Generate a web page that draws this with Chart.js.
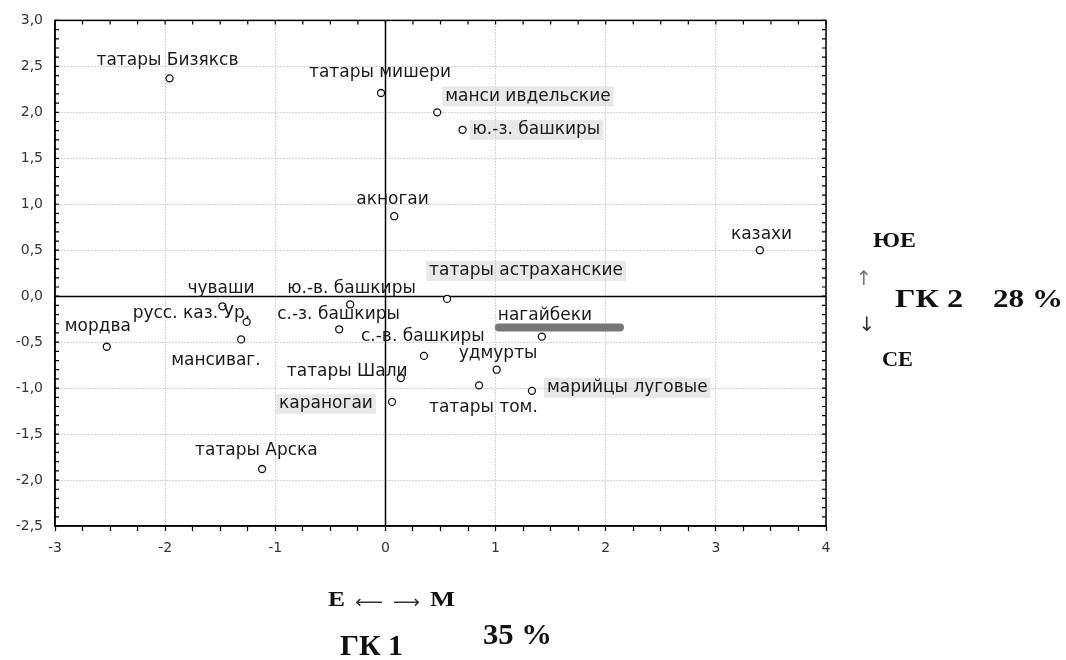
<!DOCTYPE html>
<html><head><meta charset="utf-8">
<script src="https://cdn.jsdelivr.net/npm/chart.js@4"></script>
<style>html,body{margin:0;padding:0;background:#fff}#c{display:block}</style>
</head><body>
<canvas id="c" width="1066" height="660"></canvas>
<script>
// ---- data ----
const categories = [
  "татары Бизяксв", "татары мишери", "манси ивдельские", "ю.-з. башкиры", "акногаи",
  "казахи", "татары астраханские", "ю.-в. башкиры", "чуваши", "русс. каз. Ур.",
  "мансиваг.", "мордва", "с.-з. башкиры", "нагайбеки", "с.-в. башкиры",
  "удмурты", "татары Шали", "татары том.", "марийцы луговые", "караногаи", "татары Арска"
];
const pc1 = [-1.96, -0.04, 0.47, 0.70, 0.08, 3.40, 0.56, -0.32, -1.48, -1.26,
             -1.31, -2.53, -0.42, 1.42, 0.35, 1.01, 0.14, 0.85, 1.33, 0.06, -1.12];
const pc2 = [2.37, 2.21, 2.00, 1.81, 0.87, 0.50, -0.03, -0.09, -0.11, -0.28,
             -0.47, -0.55, -0.36, -0.44, -0.65, -0.80, -0.89, -0.97, -1.03, -1.15, -1.88];
const shaded = ["манси ивдельские", "ю.-з. башкиры", "татары астраханские", "марийцы луговые", "караногаи"];
const barX = [1.03, 2.13];
const barY = [-0.34, -0.34];
const xMajorTicks = [-3, -2, -1, 0, 1, 2, 3, 4];
const yMajorTicks = [-2.5, -2, -1.5, -1, -0.5, 0, 0.5, 1, 1.5, 2, 2.5, 3];

// label placement (px offsets from marker: left edge, vertical centre)
const labelOffsets = [
  [-73,-18],[-72,-20],[8,-16],[10,0],[-38,-17],
  [-29,-16],[-18,-28],[-63,-16],[-35,-18],[-114,-8],
  [-70,21],[-42,-20],[-62,-15],[-44,-21],[-63,-19],
  [-38,-16],[-114,-6],[-50,22],[15,-3],[-113,2],[-67,-18]
];

const isMajorX = v => xMajorTicks.some(t => Math.abs(t - v) < 1e-6);
const isMajorY = v => yMajorTicks.some(t => Math.abs(t - v) < 1e-6);
const fmtY = v => v.toFixed(1).replace('.', ',');

function fitText(ctx, text, left, cy, width) {
  const w = ctx.measureText(text).width;
  ctx.save();
  ctx.translate(left, cy);
  ctx.scale(width / w, 1);
  ctx.fillText(text, 0, 0);
  ctx.restore();
}

const overlay = {
  id: 'overlay',
  beforeDatasetsDraw(chart) {
    const {ctx, chartArea: a, scales: {x, y}} = chart;
    ctx.save();
    ctx.strokeStyle = '#000';
    ctx.lineWidth = 1.5;
    const x0 = Math.round(x.getPixelForValue(0)) + 0.5;
    const y0 = Math.round(y.getPixelForValue(0)) + 0.5;
    ctx.beginPath();
    ctx.moveTo(x0, a.top); ctx.lineTo(x0, a.bottom);
    ctx.moveTo(a.left, y0); ctx.lineTo(a.right, y0);
    ctx.stroke();
    ctx.strokeRect(a.left, a.top, a.right - a.left, a.bottom - a.top);
    ctx.lineWidth = 1.2;
    ctx.beginPath();
    x.ticks.forEach(t => {
      const px = x.getPixelForValue(t.value);
      ctx.moveTo(px, a.top); ctx.lineTo(px, a.top + 4);
    });
    y.ticks.forEach(t => {
      const py = y.getPixelForValue(t.value);
      ctx.moveTo(a.left, py); ctx.lineTo(a.left + 4, py);
      ctx.moveTo(a.right, py); ctx.lineTo(a.right - 4, py);
    });
    ctx.stroke();
    ctx.restore();
  },
  afterDatasetsDraw(chart) {
    const {ctx} = chart;
    const meta = chart.getDatasetMeta(1);
    ctx.save();
    ctx.font = '17px "DejaVu Sans"';
    ctx.textBaseline = 'middle';
    ctx.textAlign = 'left';
    meta.data.forEach((pt, i) => {
      const [dx, dy] = labelOffsets[i];
      const tx = pt.x + dx, ty = pt.y + dy;
      const text = categories[i];
      const w = ctx.measureText(text).width;
      if (shaded.includes(text)) {
        ctx.fillStyle = 'rgba(205,205,205,0.45)';
        ctx.fillRect(tx - 3, ty - 10, w + 6, 20);
      }
      ctx.fillStyle = '#1a1a1a';
      ctx.fillText(text, tx, ty);
    });
    ctx.restore();
  },
  afterDraw(chart) {
    const {ctx} = chart;
    ctx.save();
    ctx.textBaseline = 'middle';
    ctx.textAlign = 'left';
    ctx.fillStyle = '#111';
    ctx.font = 'bold 22px "Liberation Serif"';
    fitText(ctx, 'ЮЕ', 873, 241, 43);
    fitText(ctx, 'СЕ', 882, 360, 31);
    fitText(ctx, 'Е', 328, 600, 17);
    fitText(ctx, 'М', 430, 600, 25);
    ctx.font = 'bold 25px "Liberation Serif"';
    fitText(ctx, 'ГК 2', 895, 301, 68);
    fitText(ctx, '28 %', 993, 301, 70);
    ctx.font = 'bold 30px "Liberation Serif"';
    fitText(ctx, 'ГК 1', 340, 647, 63);
    fitText(ctx, '35 %', 483, 636, 69);
    ctx.fillStyle = '#333';
    ctx.font = '18px "DejaVu Sans"';
    fitText(ctx, '⟵', 355, 603, 28);
    fitText(ctx, '⟶', 393, 603, 27);
    ctx.font = '20px "DejaVu Sans"';
    ctx.textAlign = 'center';
    ctx.fillStyle = '#777';
    ctx.fillText('↑', 864, 280);
    ctx.fillStyle = '#333';
    ctx.fillText('↓', 867, 326);
    ctx.restore();
  }
};

new Chart(document.getElementById('c'), {
  type: 'scatter',
  data: {
    datasets: [
      {
        type: 'line',
        data: barX.map((v, i) => ({x: v, y: barY[i]})),
        borderColor: '#777',
        borderWidth: 8,
        borderCapStyle: 'round',
        pointRadius: 0,
        fill: false
      },
      {
        data: pc1.map((v, i) => ({x: v, y: pc2[i]})),
        pointRadius: 3.5,
        pointBorderWidth: 1.3,
        pointBorderColor: '#111',
        pointBackgroundColor: '#fff'
      }
    ]
  },
  options: {
    responsive: false,
    animation: false,
    devicePixelRatio: 1,
    layout: {padding: {top: 20, right: 240, left: 0, bottom: 0}},
    plugins: {legend: {display: false}, tooltip: {enabled: false}},
    scales: {
      x: {
        type: 'linear', min: -3, max: 4,
        afterFit: s => { s.height = 134; },
        ticks: {
          stepSize: 0.25, autoSkip: false, maxRotation: 0, padding: 9,
          color: '#333', font: {family: 'DejaVu Sans', size: 14},
          callback: v => isMajorX(v) ? String(Math.round(v)) : ''
        },
        grid: {
          color: c => (c.tick && isMajorX(c.tick.value)) ? '#aaa' : 'rgba(0,0,0,0)',
          lineWidth: 1,
          drawTicks: true, tickLength: 5, tickColor: '#000', tickWidth: 1.2
        },
        border: {display: true, color: '#000', width: 1.5, dash: [1, 2]}
      },
      y: {
        type: 'linear', min: -2.5, max: 3,
        afterFit: s => { s.width = 55; },
        ticks: {
          stepSize: 0.1, autoSkip: false, padding: 12,
          color: '#333', font: {family: 'DejaVu Sans', size: 14},
          callback: v => isMajorY(v) ? fmtY(v) : ''
        },
        grid: {
          color: c => (c.tick && isMajorY(c.tick.value)) ? '#aaa' : 'rgba(0,0,0,0)',
          lineWidth: 1,
          drawTicks: false
        },
        border: {display: true, color: '#000', width: 1.5, dash: [1, 2]}
      }
    }
  },
  plugins: [overlay]
});
</script>
</body></html>
